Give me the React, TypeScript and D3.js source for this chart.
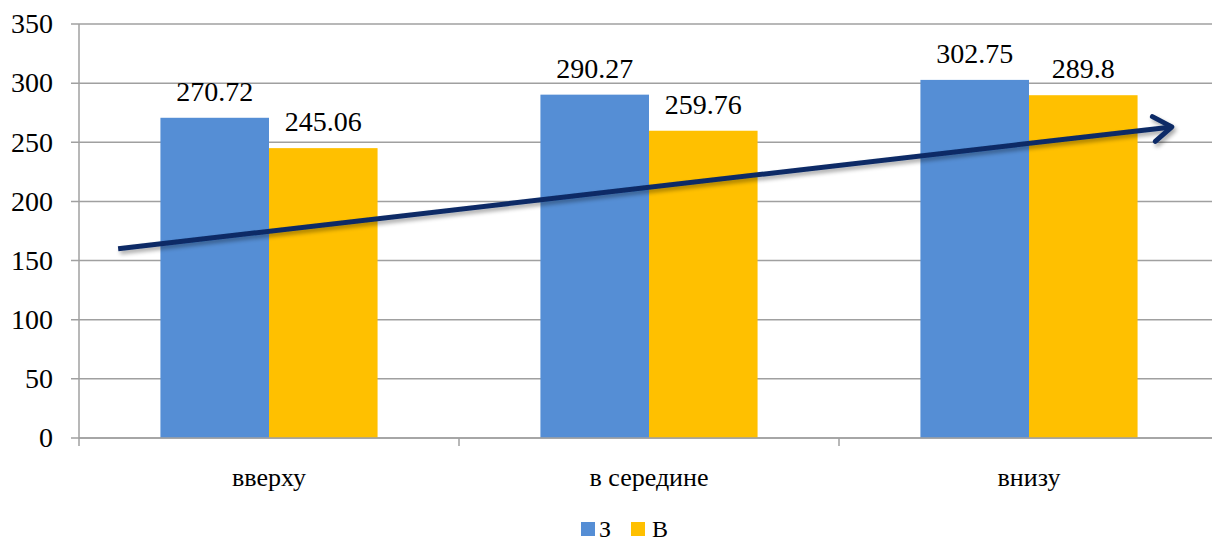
import React from "react";
import * as d3 from "d3";

const categories = ["вверху", "в середине", "внизу"];
const seriesNames = ["З", "В"];
const seriesZ = [270.72, 290.27, 302.75];
const seriesV = [245.06, 259.76, 289.8];
const yTicks = [0, 50, 100, 150, 200, 250, 300, 350];
const colors = ["#558ED5", "#FFC000"];
// trend arrow endpoints in data space: [category position (0..3), value]
const arrowStart = [0.103, 160];
const arrowEnd = [2.876, 263];

export default function App() {
  const W = 1212, H = 543;
  const left = 79, right = 1219, top = 24, bottom = 438;
  const y = d3.scaleLinear().domain([0, 350]).range([bottom, top]);
  const x0 = d3.scaleBand().domain(categories).range([left, right]).paddingInner(0).paddingOuter(0);
  const bw = x0.bandwidth() / 3.5;
  const xc = d3.scaleLinear().domain([0, 3]).range([left, right]);
  const font = "'Liberation Serif', 'DejaVu Serif', 'Noto Serif', serif";
  const series = [seriesZ, seriesV];

  const ax = xc(arrowStart[0]), ay = y(arrowStart[1]);
  const bx = xc(arrowEnd[0]), by = y(arrowEnd[1]);
  const ang = Math.atan2(by - ay, bx - ax);
  const hl = 22, ha = 0.6;
  const h1 = [bx - hl * Math.cos(ang - ha), by - hl * Math.sin(ang - ha)];
  const h2 = [bx - hl * Math.cos(ang + ha), by - hl * Math.sin(ang + ha)];

  return (
    <svg width={W} height={H} style={{ position: "absolute", left: 0, top: 0, background: "#fff", fontFamily: font }}>
      <defs>
        <filter id="sh" x="-10%" y="-50%" width="120%" height="200%">
          <feGaussianBlur in="SourceAlpha" stdDeviation="2" />
          <feOffset dx="2" dy="3" result="ob" />
          <feComponentTransfer><feFuncA type="linear" slope="0.35" /></feComponentTransfer>
          <feMerge><feMergeNode /><feMergeNode in="SourceGraphic" /></feMerge>
        </filter>
      </defs>
      {yTicks.map(t => (
        <g key={t}>
          <line x1={left - 8} x2={right} y1={y(t)} y2={y(t)} stroke="#A0A0A0" strokeWidth={1.5} />
          <text x={53} y={y(t)} dy="0.33em" textAnchor="end" style={{ fontFamily: font }} fontSize={28} fill="#000">{t}</text>
        </g>
      ))}
      <line x1={left} x2={left} y1={top} y2={bottom + 8} stroke="#A0A0A0" strokeWidth={1.5} />
      {[1, 2, 3].map(i => (
        <line key={i} x1={xc(i)} x2={xc(i)} y1={bottom} y2={bottom + 8} stroke="#A0A0A0" strokeWidth={1.5} />
      ))}
      {categories.map((c, ci) => {
        const start = x0(c)! + bw * 0.75;
        return (
          <g key={c}>
            {series.map((s, si) => (
              <g key={si}>
                <rect x={start + si * bw} y={y(s[ci])} width={bw} height={bottom - y(s[ci])} fill={colors[si]} />
                <text x={start + si * bw + bw / 2} y={y(s[ci]) - 17} textAnchor="middle" style={{ fontFamily: font }} fontSize={28} fill="#000">{s[ci]}</text>
              </g>
            ))}
            <text x={x0(c)! + x0.bandwidth() / 2} y={486} textAnchor="middle" style={{ fontFamily: font }} fontSize={26} fill="#000">{c}</text>
          </g>
        );
      })}
      <line x1={left} x2={right} y1={bottom} y2={bottom} stroke="#A0A0A0" strokeWidth={1.5} />
      <g filter="url(#sh)" stroke="#0B2A66" strokeWidth={5} fill="none" strokeLinecap="round" strokeLinejoin="round">
        <line x1={ax} y1={ay} x2={bx} y2={by} strokeLinecap="butt" />
        <polyline points={`${h1[0]},${h1[1]} ${bx},${by} ${h2[0]},${h2[1]}`} />
      </g>
      <g>
        <rect x={581} y={522} width={14} height={14} fill={colors[0]} />
        <text x={599} y={537} style={{ fontFamily: font }} fontSize={24} fill="#000">{seriesNames[0]}</text>
        <rect x={631} y={522} width={14} height={14} fill={colors[1]} />
        <text x={652} y={537} style={{ fontFamily: font }} fontSize={24} fill="#000">{seriesNames[1]}</text>
      </g>
    </svg>
  );
}
